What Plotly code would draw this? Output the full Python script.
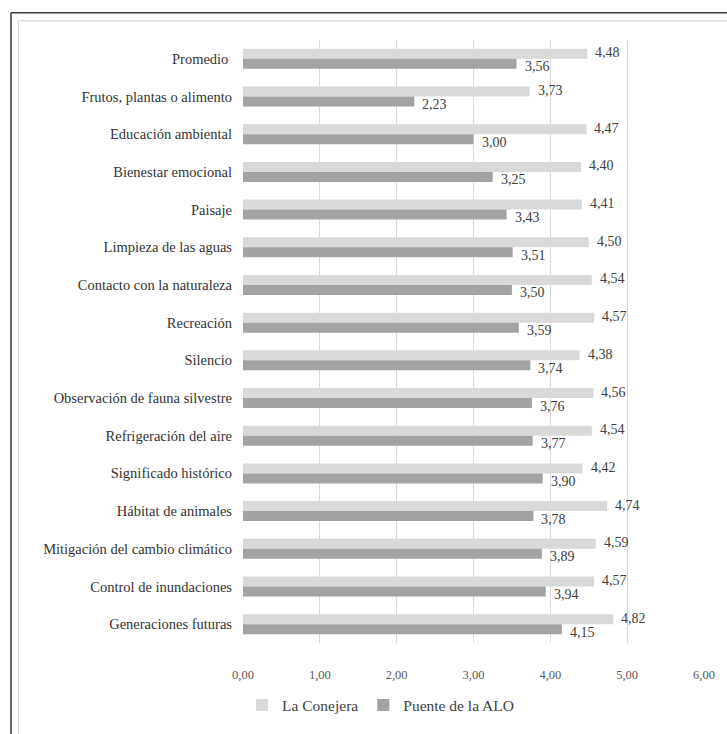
import plotly.graph_objects as go

categories = [
    "Promedio\u00a0",
    "Frutos, plantas o alimento",
    "Educación ambiental",
    "Bienestar emocional",
    "Paisaje",
    "Limpieza de las aguas",
    "Contacto con la naturaleza",
    "Recreación",
    "Silencio",
    "Observación de fauna silvestre",
    "Refrigeración del aire",
    "Significado histórico",
    "Hábitat de animales",
    "Mitigación del cambio climático",
    "Control de inundaciones",
    "Generaciones futuras",
]
la_conejera = [4.48, 3.73, 4.47, 4.40, 4.41, 4.50, 4.54, 4.57, 4.38, 4.56, 4.54, 4.42, 4.74, 4.59, 4.57, 4.82]
puente_alo = [3.56, 2.23, 3.00, 3.25, 3.43, 3.51, 3.50, 3.59, 3.74, 3.76, 3.77, 3.90, 3.78, 3.89, 3.94, 4.15]
x_ticks = [0, 1, 2, 3, 4, 5, 6]

series = [
    ("La Conejera", la_conejera, "#d9d9d9", 6),
    ("Puente de la ALO", puente_alo, "#a3a3a3", -8),
]

FONT = "Liberation Serif"
fig = go.Figure()
annotations = []
for name, vals, color, yshift in series:
    fig.add_trace(go.Bar(
        name=name, y=categories, x=vals, orientation="h",
        marker=dict(color=color, line=dict(width=0)),
    ))
    for c, v in zip(categories, vals):
        annotations.append(dict(
            x=v, y=c, xref="x", yref="y", text=f"{v:.2f}".replace(".", ","),
            showarrow=False, xanchor="left", yanchor="middle",
            xshift=6, yshift=yshift,
            font=dict(family=FONT, size=14, color="#404040"),
        ))

W, H = 727, 734
L, R, T, B = 243, 18, 40, 85
pw, ph = W - L - R, H - T - B

def px(x):
    return (x - L) / pw

def py(y):
    return 1 - (y - T) / ph

def line(x0, y0, x1, y1, color, width):
    return dict(type="line", xref="paper", yref="paper",
                x0=px(x0), x1=px(x1), y0=py(y0), y1=py(y1),
                line=dict(color=color, width=width), layer="above")

shapes = [
    line(8.5, 12.5, 740, 12.5, "#3a3a3a", 1.5),
    line(8.5, 12.5, 8.5, 760, "#3a3a3a", 1.5),
    line(16, 20.5, 740, 20.5, "#d6d6d6", 1),
    line(16, 20.5, 16, 760, "#d6d6d6", 1),
]

fig.update_layout(
    width=W, height=H,
    margin=dict(l=L, r=R, t=T, b=B, pad=0),
    paper_bgcolor="white", plot_bgcolor="white",
    barmode="group", bargap=0.47, bargroupgap=0,
    separators=",.",
    font=dict(family=FONT, color="#404040"),
    showlegend=True,
    legend=dict(orientation="h", x=px(382), xanchor="center", y=py(712), yanchor="middle",
                font=dict(family=FONT, size=15.5, color="#404040"), traceorder="normal",
                itemwidth=30, bgcolor="rgba(0,0,0,0)"),
    xaxis=dict(range=[0, 6], tickvals=x_ticks, tickformat=".2f", showgrid=True,
               gridcolor="#d9d9d9", gridwidth=1, zeroline=False, showline=False,
               ticks="", ticklabelstandoff=22,
               tickfont=dict(family=FONT, size=12.5, color="#595959")),
    yaxis=dict(autorange="reversed", showgrid=False, zeroline=False, showline=False,
               ticks="", ticklabelstandoff=10,
               tickfont=dict(family=FONT, size=14.5, color="#333333")),
    annotations=annotations,
    shapes=shapes,
)
fig.write_html("out.html")
